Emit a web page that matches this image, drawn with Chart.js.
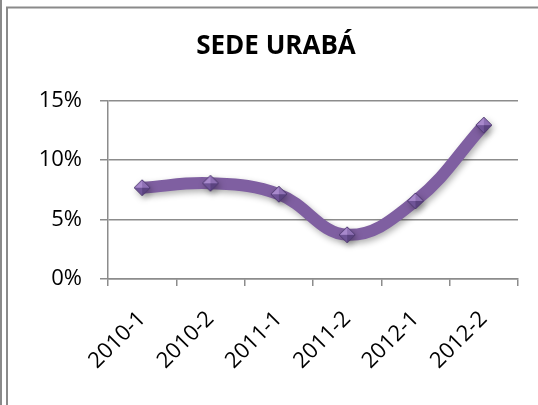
<!DOCTYPE html>
<html>
<head>
<meta charset="utf-8">
<script src="https://cdn.jsdelivr.net/npm/chart.js@4"></script>
<style>
  html, body { margin: 0; padding: 0; background: #fff; }
  #wrap { width: 538px; height: 405px; position: relative; }
</style>
</head>
<body>
<div id="wrap"><canvas id="uraba" width="538" height="405"></canvas></div>
<script>
const categories = ["2010-1", "2010-2", "2011-1", "2011-2", "2012-1", "2012-2"];
const tasa = [0.0768, 0.0805, 0.0713, 0.0372, 0.0657, 0.1294];
const yTicks = [0, 0.05, 0.1, 0.15];

const purple = "#7f5fa1";
const gridGray = "#8c8c8c";

// little pyramid-shaded diamond like the Excel marker
function makeDiamond() {
  const c = document.createElement("canvas");
  c.width = 18;
  c.height = 18;
  const g = c.getContext("2d");
  const m = 9, r = 8;
  const tri = (ax, ay, bx, by, col) => {
    g.beginPath();
    g.moveTo(m, m);
    g.lineTo(ax, ay);
    g.lineTo(bx, by);
    g.closePath();
    g.fillStyle = col;
    g.fill();
  };
  tri(m - r, m, m, m - r, "#a889cc");
  tri(m, m - r, m + r, m, "#8e70b4");
  tri(m + r, m, m, m + r, "#5b4380");
  tri(m, m + r, m - r, m, "#6f5497");
  g.beginPath();
  g.moveTo(m - r, m);
  g.lineTo(m, m - r);
  g.lineTo(m + r, m);
  g.lineTo(m, m + r);
  g.closePath();
  g.strokeStyle = "#4e3870";
  g.lineWidth = 1;
  g.stroke();
  return c;
}

const frame = {
  id: "frame",
  beforeDraw(chart) {
    const ctx = chart.ctx;
    ctx.save();
    ctx.strokeStyle = "#8a8a8a";
    ctx.lineWidth = 2;
    ctx.beginPath();
    ctx.moveTo(1, 0);
    ctx.lineTo(1, 405);
    ctx.moveTo(7, 405);
    ctx.lineTo(7, 7.5);
    ctx.lineTo(538, 7.5);
    ctx.stroke();
    ctx.restore();
  },
};

const lineShadow = {
  id: "lineShadow",
  beforeDatasetDraw(chart) {
    const ctx = chart.ctx;
    ctx.save();
    ctx.shadowColor = "rgba(0, 0, 0, 0.3)";
    ctx.shadowBlur = 6;
    ctx.shadowOffsetX = 2;
    ctx.shadowOffsetY = 3;
  },
  afterDatasetDraw(chart) {
    chart.ctx.restore();
  },
};

const diamond = makeDiamond();

new Chart(document.getElementById("uraba").getContext("2d"), {
  type: "line",
  data: {
    labels: categories,
    datasets: [
      {
        label: "Sede Urabá",
        data: tasa,
        borderColor: purple,
        borderWidth: 12,
        tension: 0.4,
        fill: false,
        pointStyle: diamond,
        pointRadius: 8,
        pointHoverRadius: 8,
        borderCapStyle: "butt",
      },
    ],
  },
  options: {
    responsive: false,
    animation: false,
    events: [],
    layout: { padding: { left: 32, right: 18, top: 0, bottom: 0 } },
    plugins: {
      legend: { display: false },
      tooltip: { enabled: false },
      title: {
        display: true,
        text: "SEDE URABÁ",
        color: "#000",
        font: { family: "'Open Sans'", size: 26, weight: "bold", lineHeight: 1.2 },
        padding: { top: 31, bottom: 38.5 },
      },
    },
    scales: {
      x: {
        offset: true,
        grid: {
          offset: true,
          drawOnChartArea: false,
          color: gridGray,
          lineWidth: 1.5,
          tickLength: 7,
        },
        border: { color: gridGray, width: 1.5 },
        ticks: {
          color: "#000",
          font: { family: "'Open Sans'", size: 22 },
          minRotation: 45,
          maxRotation: 45,
          autoSkip: false,
          padding: 20,
        },
        afterFit(scale) {
          scale.height = 126;
        },
      },
      y: {
        min: 0,
        max: 0.15,
        afterBuildTicks(scale) {
          scale.ticks = yTicks.map((v) => ({ value: v }));
        },
        grid: { color: gridGray, lineWidth: 1.5, tickLength: 8 },
        border: { color: gridGray, width: 1.5 },
        ticks: {
          color: "#000",
          font: { family: "'Open Sans'", size: 22 },
          padding: 18,
          callback: (v) => Math.round(v * 100) + "%",
        },
        afterFit(scale) {
          scale.width = 76;
        },
      },
    },
  },
  plugins: [frame, lineShadow],
});
</script>
</body>
</html>
